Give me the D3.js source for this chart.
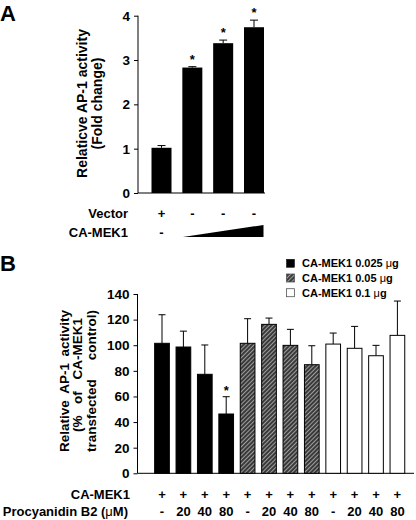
<!DOCTYPE html>
<html><head><meta charset="utf-8">
<script src="https://cdn.jsdelivr.net/npm/d3@7"></script>
<style>
body{margin:0;background:#fff;}
svg{display:block;font-family:Arial,"Liberation Sans",sans-serif;font-weight:bold;}
</style></head>
<body>
<svg id="c" width="416" height="520"></svg>
<script>
// ---- Panel A data ----
const aGroups = ["g1","g2","g3","g4"];
const aValues = [1.02, 2.83, 3.38, 3.74];
const aErrors = [0.05, 0.02, 0.07, 0.16];
const aStars = [false, true, true, true];
const aVector = ["+","-","-","-"];
const aTicks = [0,1,2,3,4];

// ---- Panel B data ----
const bGroups = ["b1","b2","b3","b4","b5","b6","b7","b8","b9","b10","b11","b12"];
const bValues = [101.5, 98.6, 77.3, 46.3, 101.5, 116.3, 99.9, 84.8, 100.9, 97.6, 91.8, 107.7];
const bErrors = [22.3, 12.4, 22.9, 13.5, 19.2, 4.9, 12.5, 14.8, 8.6, 17.1, 8.1, 26.8];
const bSeries = [0,0,0,0,1,1,1,1,2,2,2,2];
const bStars = [false,false,false,true,false,false,false,false,false,false,false,false];
const bMek = ["+","+","+","+","+","+","+","+","+","+","+","+"];
const bDose = ["-","20","40","80","-","20","40","80","-","20","40","80"];
const bTicks = [0,20,40,60,80,100,120,140];
const legendLabels = ["CA-MEK1 0.025 \u03BCg","CA-MEK1 0.05 \u03BCg","CA-MEK1 0.1 \u03BCg"];

const svg = d3.select("#c");
const defs = svg.append("defs");
const pat = defs.append("pattern").attr("id","hatch").attr("patternUnits","userSpaceOnUse")
  .attr("width",3).attr("height",3).attr("patternTransform","rotate(45)");
pat.append("rect").attr("width",3).attr("height",3).attr("fill","#3a3a3a");
pat.append("line").attr("x1",0).attr("y1",0).attr("x2",0).attr("y2",3)
  .attr("stroke","#fff").attr("stroke-width",1);
const fills = ["#000","url(#hatch)","#fff"];

// ===== Panel A =====
const ya = d3.scaleLinear().domain([0,4]).range([193,15.7]);
const xa = d3.scalePoint().domain(aGroups).range([161.5,254]);
const aBW = 20;
svg.append("text").attr("x",0).attr("y",21).attr("font-size",22).text("A");

const axA = svg.append("g").attr("transform","translate(138,0)")
  .call(d3.axisLeft(ya).tickValues(aTicks).tickSize(4).tickPadding(4).tickFormat(d3.format("d")));
axA.select(".domain").attr("stroke","#000").attr("d","M0,"+ya(4)+"V"+ya(0));
axA.selectAll("text").attr("font-size",13.5).attr("font-weight","bold").attr("font-family","Arial, Liberation Sans").attr("fill","#000");
svg.append("line").attr("x1",138).attr("x2",265).attr("y1",ya(0)).attr("y2",ya(0)).attr("stroke","#000");

const gA = svg.append("g");
aGroups.forEach((g,i)=>{
  const cx = xa(g);
  const top = ya(aValues[i]+aErrors[i]);
  gA.append("line").attr("x1",cx).attr("x2",cx).attr("y1",ya(aValues[i])).attr("y2",top).attr("stroke","#000");
  gA.append("line").attr("x1",cx-4).attr("x2",cx+4).attr("y1",top).attr("y2",top).attr("stroke","#000");
  gA.append("rect").attr("x",cx-aBW/2).attr("width",aBW).attr("y",ya(aValues[i])).attr("height",ya(0)-ya(aValues[i])).attr("fill","#000");
  if(aStars[i]) gA.append("text").attr("x",cx).attr("y",top-3).attr("text-anchor","middle").attr("font-size",13).text("*");
  gA.append("text").attr("x",cx).attr("y",217.5).attr("text-anchor","middle").attr("font-size",13).text(aVector[i]);
});
gA.append("text").attr("x",161.5).attr("y",236.5).attr("text-anchor","middle").attr("font-size",13).text("-");
gA.append("path").attr("d",`M${xa("g2")-9.5},237 L${xa("g4")+9.5},237 L${xa("g4")+9.5},225 Z`).attr("fill","#000");
svg.append("text").attr("x",128).attr("y",217.5).attr("text-anchor","end").attr("font-size",13).text("Vector");
svg.append("text").attr("x",128).attr("y",236.5).attr("text-anchor","end").attr("font-size",13).text("CA-MEK1");

svg.append("text").attr("transform","translate(82,103.5) rotate(-90)").attr("text-anchor","middle").attr("dy","0.35em").attr("font-size",14).text("Relaticve AP-1 activity");
svg.append("text").attr("transform","translate(97,103.5) rotate(-90)").attr("text-anchor","middle").attr("dy","0.35em").attr("font-size",14).text("(Fold change)");

// ===== Panel B =====
const yb = d3.scaleLinear().domain([0,140]).range([473.3,294]);
const xb = d3.scalePoint().domain(bGroups).range([162,397.4]);
const bBW = 14.7;
svg.append("text").attr("x",0).attr("y",271).attr("font-size",22).text("B");

const axB = svg.append("g").attr("transform","translate(137.5,0)")
  .call(d3.axisLeft(yb).tickValues(bTicks).tickSize(4).tickPadding(4).tickFormat(d3.format("d")));
axB.select(".domain").attr("stroke","#000").attr("d","M0,"+yb(140)+"V"+yb(0));
axB.selectAll("text").attr("font-size",13.5).attr("font-weight","bold").attr("font-family","Arial, Liberation Sans").attr("fill","#000");
svg.append("line").attr("x1",137.5).attr("x2",414).attr("y1",yb(0)).attr("y2",yb(0)).attr("stroke","#000");

const gB = svg.append("g");
bGroups.forEach((g,i)=>{
  const cx = xb(g);
  const top = yb(bValues[i]+bErrors[i]);
  gB.append("line").attr("x1",cx).attr("x2",cx).attr("y1",yb(bValues[i])).attr("y2",top).attr("stroke","#000");
  gB.append("line").attr("x1",cx-3.5).attr("x2",cx+3.5).attr("y1",top).attr("y2",top).attr("stroke","#000");
  gB.append("rect").attr("x",cx-bBW/2).attr("width",bBW).attr("y",yb(bValues[i])).attr("height",yb(0)-yb(bValues[i]))
    .attr("fill",fills[bSeries[i]]).attr("stroke","#000").attr("stroke-width",1);
  if(bStars[i]) gB.append("text").attr("x",cx).attr("y",top-2).attr("text-anchor","middle").attr("font-size",13).text("*");
  gB.append("text").attr("x",cx).attr("y",498.5).attr("text-anchor","middle").attr("font-size",13).text(bMek[i]);
  gB.append("text").attr("x",cx).attr("y",515.5).attr("text-anchor","middle").attr("font-size",13).text(bDose[i]);
});
svg.append("text").attr("x",130).attr("y",498.5).attr("text-anchor","end").attr("font-size",13).text("CA-MEK1");
const pl = svg.append("text").attr("x",128).attr("y",515.5).attr("text-anchor","end").attr("font-size",13);
pl.append("tspan").text("Procyanidin B2 (");
pl.append("tspan").attr("font-weight","normal").text("\u03BC");
pl.append("tspan").text("M)");

// justified y-label lines
const bLines = [["Relative","AP-1","activity"],["(%","of","CA-MEK1"],["transfected","control)"]];
const bLineX = [64,77.5,91];
const bLineSpan = [[310,452],[318,432],[310,452]];
bLines.forEach((words,li)=>{
  const g = svg.append("g").attr("transform",`translate(${bLineX[li]},0) rotate(-90)`);
  const ts = words.map(w=>g.append("text").attr("dy","0.35em").attr("font-size",13.5).text(w));
  const widths = ts.map(t=>t.node().getComputedTextLength());
  const total = bLineSpan[li][1]-bLineSpan[li][0];
  const gap = (total - d3.sum(widths))/(words.length-1);
  let pos = -bLineSpan[li][1];
  ts.forEach((t,k)=>{ t.attr("x",pos); pos += widths[k]+gap; });
});

// legend
const lg = svg.append("g");
legendLabels.forEach((l,i)=>{
  const cy = 263.3 + i*14.7;
  lg.append("rect").attr("x",286.5).attr("y",cy-4).attr("width",8).attr("height",8)
    .attr("fill",fills[i]).attr("stroke", i===0?"#000":"#555").attr("stroke-width",i===0?0.5:0.8);
  const t = lg.append("text").attr("x",302).attr("y",cy).attr("dy","0.36em").attr("font-size",11);
  const parts = l.split("\u03BC");
  t.append("tspan").text(parts[0]);
  t.append("tspan").attr("font-weight","normal").text("\u03BC");
  t.append("tspan").text(parts[1]);
});
</script>
</body></html>
